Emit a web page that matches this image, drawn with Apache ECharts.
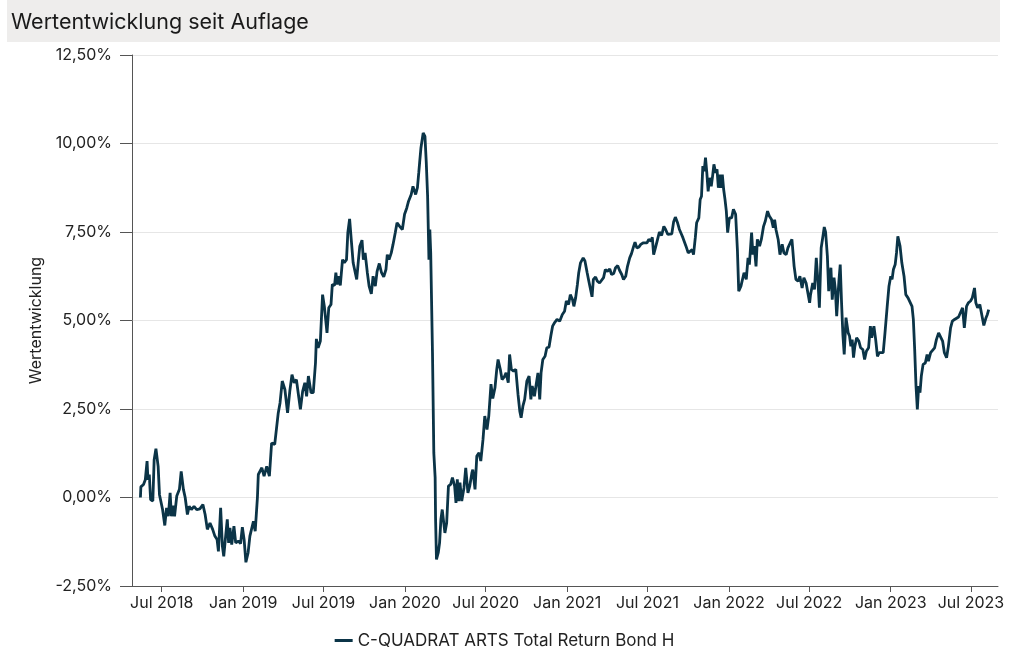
<!DOCTYPE html>
<html><head><meta charset="utf-8">
<script src="https://cdn.jsdelivr.net/npm/echarts@6/dist/echarts.min.js"></script>
<style>html,body{margin:0;padding:0;background:#fff}#c{width:1009px;height:649px}</style>
</head><body><div id="c"></div>
<script>
const chartTitle = 'Wertentwicklung seit Auflage';
const seriesName = 'C-QUADRAT ARTS Total Return Bond H';
const yAxisName = 'Wertentwicklung';
const xTickDates = ['2018-07-01','2019-01-01','2019-07-01','2020-01-01','2020-07-01','2021-01-01','2021-07-01','2022-01-01','2022-07-01','2023-01-01','2023-07-01'];
const xTickLabels = ['Jul 2018','Jan 2019','Jul 2019','Jan 2020','Jul 2020','Jan 2021','Jul 2021','Jan 2022','Jul 2022','Jan 2023','Jul 2023'];
const yMin = -2.5, yMax = 12.5, yStep = 2.5;
const xMin = '2018-04-25', xMax = '2023-08-31';

const days2018 = ['05-14','05-15','05-21','05-25','05-29','05-31','06-03','06-06','06-11','06-14','06-18','06-23','06-26','06-29','07-03','07-08','07-12','07-16','07-20','07-23','07-27','07-30','08-04','08-10','08-14','08-19','08-23','08-28','09-01','09-06','09-12','09-18','09-25','10-02','10-07','10-12','10-18','10-24','10-29','11-03','11-06','11-11','11-15','11-18','11-23','11-26','11-29','12-02','12-06','12-11','12-15','12-21','12-26','12-30'];
const vals2018 = [0.00,0.30,0.37,0.50,1.03,0.50,0.65,-0.06,-0.10,1.07,1.38,0.88,0.08,0.04,-0.34,-0.79,-0.29,-0.53,0.13,-0.53,-0.23,-0.53,0.04,0.23,0.74,0.23,0.00,-0.48,-0.25,-0.34,-0.25,-0.34,-0.32,-0.20,-0.48,-0.90,-0.72,-0.90,-1.09,-1.19,-1.52,-0.29,-1.38,-1.66,-1.00,-0.62,-1.28,-0.86,-1.33,-0.81,-1.28,-1.23,-1.30,-0.84];

const days2019 = ['01-03','01-07','01-12','01-16','01-20','01-24','01-28','02-02','02-04','02-12','02-17','02-23','03-01','03-06','03-13','03-21','03-25','03-30','04-05','04-11','04-16','04-21','04-26','05-01','05-06','05-10','05-15','05-20','05-24','05-28','06-03','06-08','06-13','06-15','06-19','06-24','06-29','07-03','07-09','07-13','07-18','07-21','07-26','07-29','08-01','08-05','08-08','08-13','08-17','08-22','08-25','08-29','09-02','09-06','09-14','09-18','09-21','09-26','09-29','10-03','10-08','10-12','10-17','10-21','10-26','10-30','11-04','11-09','11-14','11-19','11-22','11-26','12-01','12-05','12-10','12-14','12-20','12-26','12-31'];
const vals2019 = [-1.19,-1.83,-1.56,-1.09,-1.05,-0.67,-0.95,0.00,0.65,0.84,0.60,0.88,0.60,1.54,1.50,2.39,2.67,3.29,3.05,2.39,3.00,3.47,3.24,3.33,2.86,2.49,3.00,3.24,2.86,3.43,2.96,2.96,3.80,4.48,4.23,4.42,5.73,5.40,4.65,5.36,5.45,6.02,5.99,6.35,6.02,6.25,5.99,6.72,6.63,6.72,7.48,7.87,7.24,6.63,6.16,6.72,7.10,7.27,6.72,6.91,6.35,5.97,5.75,6.25,5.97,6.39,6.61,6.35,6.23,6.44,6.86,6.72,6.91,7.15,7.48,7.76,7.66,7.57,8.00];

const days2020 = ['01-05','01-09','01-15','01-19','01-25','01-29','02-01','02-03','02-06','02-11','02-15','02-18','02-21','02-24','02-26','02-28','03-03','03-06','03-09','03-10','03-12','03-16','03-19','03-22','03-25','03-28','03-31','04-04','04-08','04-13','04-17','04-22','04-25','04-28','05-01','05-04','05-08','05-13','05-17','05-22','05-26','05-31','06-02','06-07','06-11','06-16','06-20','06-25','06-29','07-04','07-08','07-13','07-17','07-22','07-26','07-29','08-03','08-07','08-12','08-16','08-21','08-24','08-28','09-02','09-07','09-12','09-16','09-19','09-23','09-27','10-02','10-07','10-11','10-14','10-19','10-23','10-27','10-31','11-03','11-07','11-12','11-16','11-21','11-25','11-29','12-04','12-09','12-15','12-21','12-26','12-30'];
const vals2020 = [8.18,8.37,8.56,8.79,8.56,8.75,9.17,9.46,9.88,10.30,10.20,9.46,8.51,6.72,7.57,6.91,4.09,1.26,0.56,-0.62,-1.75,-1.56,-1.28,-0.62,-0.34,-0.29,-1.00,-0.72,0.32,0.37,0.56,0.32,-0.15,0.51,-0.10,0.42,-0.10,0.27,0.84,0.13,0.32,0.70,0.79,0.23,1.17,1.26,1.03,1.64,2.30,1.92,2.30,3.20,2.80,3.10,3.62,3.90,3.62,3.33,3.41,3.52,3.24,4.04,3.62,3.57,3.62,2.91,2.44,2.25,2.58,2.77,3.29,3.43,2.77,3.15,2.86,3.19,3.52,2.77,3.52,3.90,3.99,4.23,4.25,4.56,4.84,4.95,5.03,4.98,5.17,5.26,5.55];

const days2021 = ['01-04','01-08','01-13','01-16','01-20','01-24','01-27','01-31','02-06','02-10','02-15','02-18','02-22','02-26','03-01','03-06','03-10','03-15','03-19','03-24','03-28','04-02','04-07','04-11','04-16','04-20','04-25','04-29','05-04','05-08','05-13','05-17','05-22','05-26','05-31','06-03','06-07','06-12','06-16','06-21','06-25','06-30','07-04','07-09','07-12','07-15','07-19','07-24','07-28','08-02','08-07','08-11','08-16','08-20','08-25','08-29','09-02','09-07','09-11','09-16','09-19','09-23','09-26','10-01','10-05','10-10','10-13','10-17','10-20','10-25','10-28','10-31','11-03','11-06','11-09','11-12','11-15','11-18','11-22','11-25','11-28','12-02','12-05','12-08','12-11','12-14','12-17','12-20','12-23','12-26','12-29'];
const vals2021 = [5.45,5.73,5.59,5.40,5.64,6.02,6.35,6.63,6.77,6.68,6.35,6.16,6.21,5.67,6.16,6.23,6.11,6.06,6.11,6.21,6.44,6.39,6.46,6.30,6.33,6.49,6.55,6.42,6.30,6.16,6.25,6.53,6.77,6.89,7.10,7.21,7.05,7.08,7.15,7.19,7.24,7.19,7.29,7.24,7.35,6.86,7.05,7.30,7.50,7.40,7.66,7.57,7.43,7.38,7.45,7.78,7.92,7.76,7.58,7.43,7.34,7.29,7.10,6.91,6.86,7.00,6.86,7.34,7.76,7.90,8.42,8.51,9.36,9.22,9.60,9.17,8.65,9.03,8.79,9.08,9.41,9.17,9.27,8.75,9.12,8.75,9.12,8.70,8.42,8.09,7.48];

const days2022 = ['01-02','01-07','01-11','01-16','01-20','01-23','01-28','02-01','02-04','02-09','02-13','02-16','02-21','02-24','02-27','03-03','03-06','03-11','03-15','03-20','03-24','03-29','04-02','04-07','04-11','04-14','04-17','04-22','04-26','05-01','05-05','05-10','05-14','05-19','05-23','05-28','06-01','06-06','06-10','06-15','06-19','06-24','06-28','07-02','07-04','07-09','07-13','07-17','07-21','07-24','07-28','08-01','08-04','08-07','08-11','08-14','08-19','08-22','08-26','08-29','09-01','09-06','09-09','09-12','09-15','09-18','09-22','09-27','09-30','10-03','10-06','10-09','10-12','10-16','10-21','10-25','10-30','11-03','11-07','11-12','11-16','11-19','11-24','11-28','12-02','12-06','12-10','12-15','12-19','12-24','12-28'];
const vals2022 = [7.90,7.90,8.14,8.00,7.00,5.83,5.97,5.92,6.35,6.16,6.77,6.58,7.48,6.86,7.10,6.53,7.29,7.10,7.29,7.66,7.81,8.09,7.95,7.85,7.62,7.85,7.57,7.29,6.86,7.15,6.91,6.86,7.05,7.19,7.29,6.53,6.16,6.11,6.25,5.92,6.21,6.06,6.11,5.50,5.73,6.06,5.88,6.77,6.06,5.36,7.05,7.38,7.64,7.50,6.82,5.83,6.49,5.59,6.21,5.88,5.12,6.11,6.58,5.50,4.60,4.04,5.08,4.65,4.56,4.27,4.46,3.95,4.27,4.51,4.42,4.23,4.18,3.90,4.13,4.23,4.84,4.51,4.84,4.46,3.99,4.09,4.09,4.09,4.65,5.40,5.97];

const days2023 = ['01-01','01-04','01-07','01-11','01-14','01-17','01-22','01-26','01-31','02-04','02-09','02-13','02-18','02-21','02-24','02-27','03-02','03-05','03-08','03-11','03-15','03-20','03-24','03-27','04-01','04-05','04-10','04-14','04-19','04-23','04-28','05-02','05-07','05-11','05-16','05-20','05-25','05-29','06-03','06-07','06-12','06-16','06-21','06-25','06-30','07-04','07-09','07-12','07-16','07-21','07-25','07-30','08-04','08-07','08-10'];
const vals2023 = [6.25,6.16,6.44,6.58,6.91,7.38,7.10,6.63,6.25,5.73,5.64,5.67,5.40,5.03,4.18,3.15,2.49,3.15,2.96,3.43,3.76,3.80,4.04,3.85,4.09,4.13,4.23,4.46,4.65,4.65,4.42,4.09,3.95,4.27,4.79,4.98,5.03,4.98,5.10,5.08,5.36,4.79,5.40,5.50,5.55,5.64,5.92,5.50,5.36,5.45,5.48,4.86,5.08,5.17,5.31];

const years = [
  ['2018', days2018, vals2018], ['2019', days2019, vals2019], ['2020', days2020, vals2020],
  ['2021', days2021, vals2021], ['2022', days2022, vals2022], ['2023', days2023, vals2023]
];
const ts = s => echarts.number.parseDate(s).getTime();
const seriesData = [];
years.forEach(([y, ds, vs]) => ds.forEach((d, i) => seriesData.push([ts(y + '-' + d), vs[i]])));
const tickTs = xTickDates.map(ts);
const fmtY = v => v.toFixed(2).replace('.', ',') + '%';
const FONT = 'Inter, "Noto Sans", sans-serif';
const TXT = '#222222';

const chart = echarts.init(document.getElementById('c'), null, {renderer: 'canvas'});
chart.setOption({
  animation: false,
  backgroundColor: '#ffffff',
  textStyle: {fontFamily: FONT},
  graphic: [{type: 'rect', z: -10, silent: true, shape: {x: 7, y: 0, width: 993, height: 42}, style: {fill: '#eeedec'}}],
  title: {text: chartTitle, left: 6, top: 7, textStyle: {fontFamily: FONT, fontSize: 21.5, fontWeight: 'normal', color: '#1a1a1a'}},
  legend: {
    data: [seriesName], left: 'center', top: 632, padding: 0, icon: 'rect', itemWidth: 18, itemHeight: 3, itemGap: 10,
    textStyle: {fontFamily: FONT, fontSize: 17, color: TXT}
  },
  grid: {left: 132, right: 11, top: 55, bottom: 63, containLabel: false},
  xAxis: {
    type: 'value', min: ts(xMin), max: ts(xMax),
    axisLine: {show: true, onZero: false, lineStyle: {color: '#555555', width: 1}},
    axisTick: {show: true, length: 6, customValues: tickTs, lineStyle: {color: '#555555'}},
    axisLabel: {
      customValues: tickTs, margin: 9, color: TXT, fontFamily: FONT, fontSize: 16,
      formatter: v => { const i = tickTs.findIndex(t => Math.abs(t - v) < 86400000); return i >= 0 ? xTickLabels[i] : ''; }
    },
    splitLine: {show: false}
  },
  yAxis: {
    type: 'value', min: yMin, max: yMax, interval: yStep,
    name: yAxisName, nameLocation: 'middle', nameGap: 83, nameRotate: 90,
    nameTextStyle: {fontFamily: FONT, fontSize: 16, color: TXT},
    axisLine: {show: true, lineStyle: {color: '#555555', width: 1}},
    axisTick: {show: true, length: 12, lineStyle: {color: '#555555'}},
    axisLabel: {margin: 20, color: TXT, fontFamily: FONT, fontSize: 16, formatter: fmtY},
    splitLine: {show: true, lineStyle: {color: '#e6e6e6', width: 1}}
  },
  series: [{
    name: seriesName, type: 'line', data: seriesData, showSymbol: false, symbol: 'none',
    lineStyle: {color: '#0b3447', width: 2.8}, itemStyle: {color: '#0b3447'}
  }]
});
</script></body></html>
